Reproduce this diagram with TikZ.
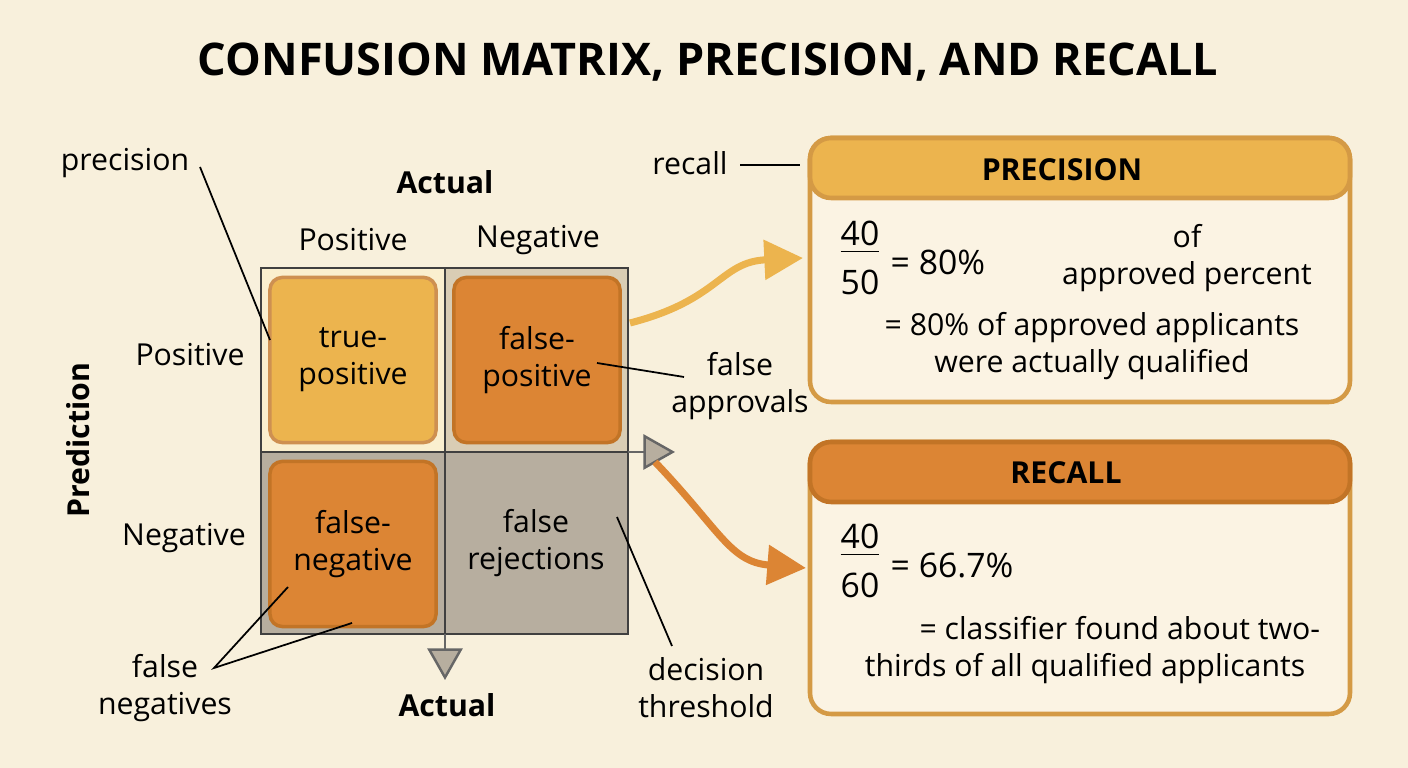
\documentclass[tikz,border=0pt]{standalone}
\usepackage{fontspec}
\setmainfont{Open Sans}
\usepackage{tikz}
\usetikzlibrary{positioning, arrows.meta}
\definecolor{bgcream}{HTML}{F8F0DC}
\definecolor{boxcream}{HTML}{FBF3E3}
\definecolor{gold}{HTML}{ECB44E}
\definecolor{amber}{HTML}{DC8534}
\definecolor{amberdk}{HTML}{C27426}
\definecolor{greycell}{HTML}{B7AE9F}
\definecolor{greylite}{HTML}{D9CDB4}
\definecolor{tpcell}{HTML}{FAEFCF}
\definecolor{frame}{HTML}{D49A45}
\newcommand{\ratio}[2]{\begin{tabular}{@{}c@{}}#1\\[-2pt]\hline\rule{0pt}{12pt}#2\end{tabular}}
\tikzset{
  lbl/.style={font=\fontsize{8.6}{10.5}\selectfont, align=center, inner sep=0pt},
  hdr/.style={font=\fontsize{8.6}{10.5}\selectfont\bfseries, inner sep=0pt},
  big/.style={font=\fontsize{9.6}{11.5}\selectfont, inner sep=0pt},
  cellbox/.style={rounded corners=3.5pt, line width=1pt, inner sep=0pt, minimum width=1.66cm, minimum height=1.65cm},
  callout/.style={black, line width=0.5pt},
  tri/.style={-{Triangle[open, fill=greycell, length=9pt, width=10pt]}, draw=gray!80!black, line width=0.7pt}
}
\begin{document}
\begin{tikzpicture}[x=0.01cm, y=-0.01cm]
\fill[bgcream] (0,0) rectangle (1408,768);

% --- Title ---
\node[font=\fontsize{12.8}{15}\selectfont\bfseries] (title) at (708,62) {CONFUSION MATRIX, PRECISION, AND RECALL};

% --- Matrix cells ---
\fill[tpcell] (261,268) rectangle (445,452);
\fill[greylite] (445,268) rectangle (628,452);
\fill[greycell] (261,452) rectangle (445,634);
\fill[greycell] (445,452) rectangle (628,634);
\draw[line width=0.8pt, black!75] (261,268) rectangle (628,634);
\draw[line width=0.8pt, black!75] (445,268) -- (445,634);
\draw[line width=0.8pt, black!75] (261,452) -- (628,452);

\node[cellbox, fill=gold, draw=amberdk!80, lbl] (tp) at (353,360) {true-\\positive};
\node[cellbox, fill=amber, draw=amberdk, lbl] (fp) at (537,360) {false-\\positive};
\node[cellbox, fill=amber, draw=amberdk, lbl] (fn) at (353,544) {false-\\negative};
\node[lbl] (tn) at (536,543) {false\\rejections};

% --- Axis labels ---
\node[hdr] (actTop) at (445,182) {Actual};
\node[lbl] (colPos) at (353,240) {Positive};
\node[lbl] (colNeg) at (538,240) {Negative};
\node[lbl] (rowPos) at (190,355) {Positive};
\node[lbl] (rowNeg) at (184,538) {Negative};
\node[hdr, rotate=90] (pred) at (78,440) {Prediction};
\node[hdr] (actBot) at (447,705) {Actual};

% --- Threshold arrows ---
\coordinate (vs) at (445,634);
\coordinate (ve) at (445,680);
\coordinate (hs) at (628,452);
\coordinate (he) at (675,452);
\draw[tri] (vs) -- (ve);
\draw[tri] (hs) -- (he);

% --- Callouts ---
\node[lbl] (precLbl) at (125,163) {precision};
\coordinate (precA) at (200,167);
\draw[callout] (precA) -- (270,340);
\node[lbl] (recLbl) at (690,163) {recall};
\coordinate (recA) at (740,165);
\draw[callout] (recA) -- (800,165);
\node[lbl] (faLbl) at (740,386) {false\\approvals};
\coordinate (faTip) at (597,363);
\draw[callout] (faTip) -- (684,377);
\node[lbl] (fnLbl) at (165,688) {false\\negatives};
\coordinate (fnA) at (288,587);
\coordinate (fnB) at (352,623);
\coordinate (fnJ) at (214,668);
\draw[callout] (fnA) -- (fnJ) -- (fnB);
\node[lbl] (dtLbl) at (706,688) {decision\\threshold};
\coordinate (dtTip) at (617,517);
\draw[callout] (dtTip) -- (672,646);

% --- Result boxes ---
\draw[frame, line width=1.3pt, fill=boxcream, rounded corners=6pt] (810,138) rectangle (1350,402);
\draw[frame, line width=1.3pt, fill=gold, rounded corners=6pt] (810,198) -- (810,138) -- (1350,138) -- (1350,198) -- cycle;
\node[hdr] (precHdr) at (1062,170) {PRECISION};
\draw[frame, line width=1.3pt, fill=boxcream, rounded corners=6pt] (810,442) rectangle (1350,714);
\draw[amberdk, line width=1.3pt, fill=amber, rounded corners=6pt] (810,502) -- (810,442) -- (1350,442) -- (1350,502) -- cycle;
\node[hdr] (recHdr) at (1066,473) {RECALL};

\node[big] (precFrac) at (860,262) {\ratio{40}{50}};
\node[big, anchor=west] (precVal) at (890,262) {= 80\%};
\node[lbl] (precOf) at (1187,258) {of\\approved percent};
\node[lbl] (precTxt) at (1092,346) {= 80\% of approved applicants\\were actually qualified};
\node[big] (recFrac) at (860,565) {\ratio{40}{60}};
\node[big, anchor=west] (recVal) at (890,566) {= 66.7\%};
\node[lbl] (recTxt) at (1085,650) {\hspace*{2.3em}= classifier found about two-\\thirds of all qualified applicants};

% --- Flow arrows ---
\coordinate (pa) at (630,323);
\coordinate (pb) at (803,258);
\coordinate (ra) at (655,462);
\coordinate (rb) at (806,568);
\draw[gold, line width=2pt, -{Triangle[length=11pt, width=11pt]}] (pa) .. controls (720,300) and (720,262) .. (pb);
\draw[amber, line width=2pt, -{Triangle[length=11pt, width=11pt]}] (ra) .. controls (720,530) and (730,562) .. (rb);
\end{tikzpicture}
\end{document}
